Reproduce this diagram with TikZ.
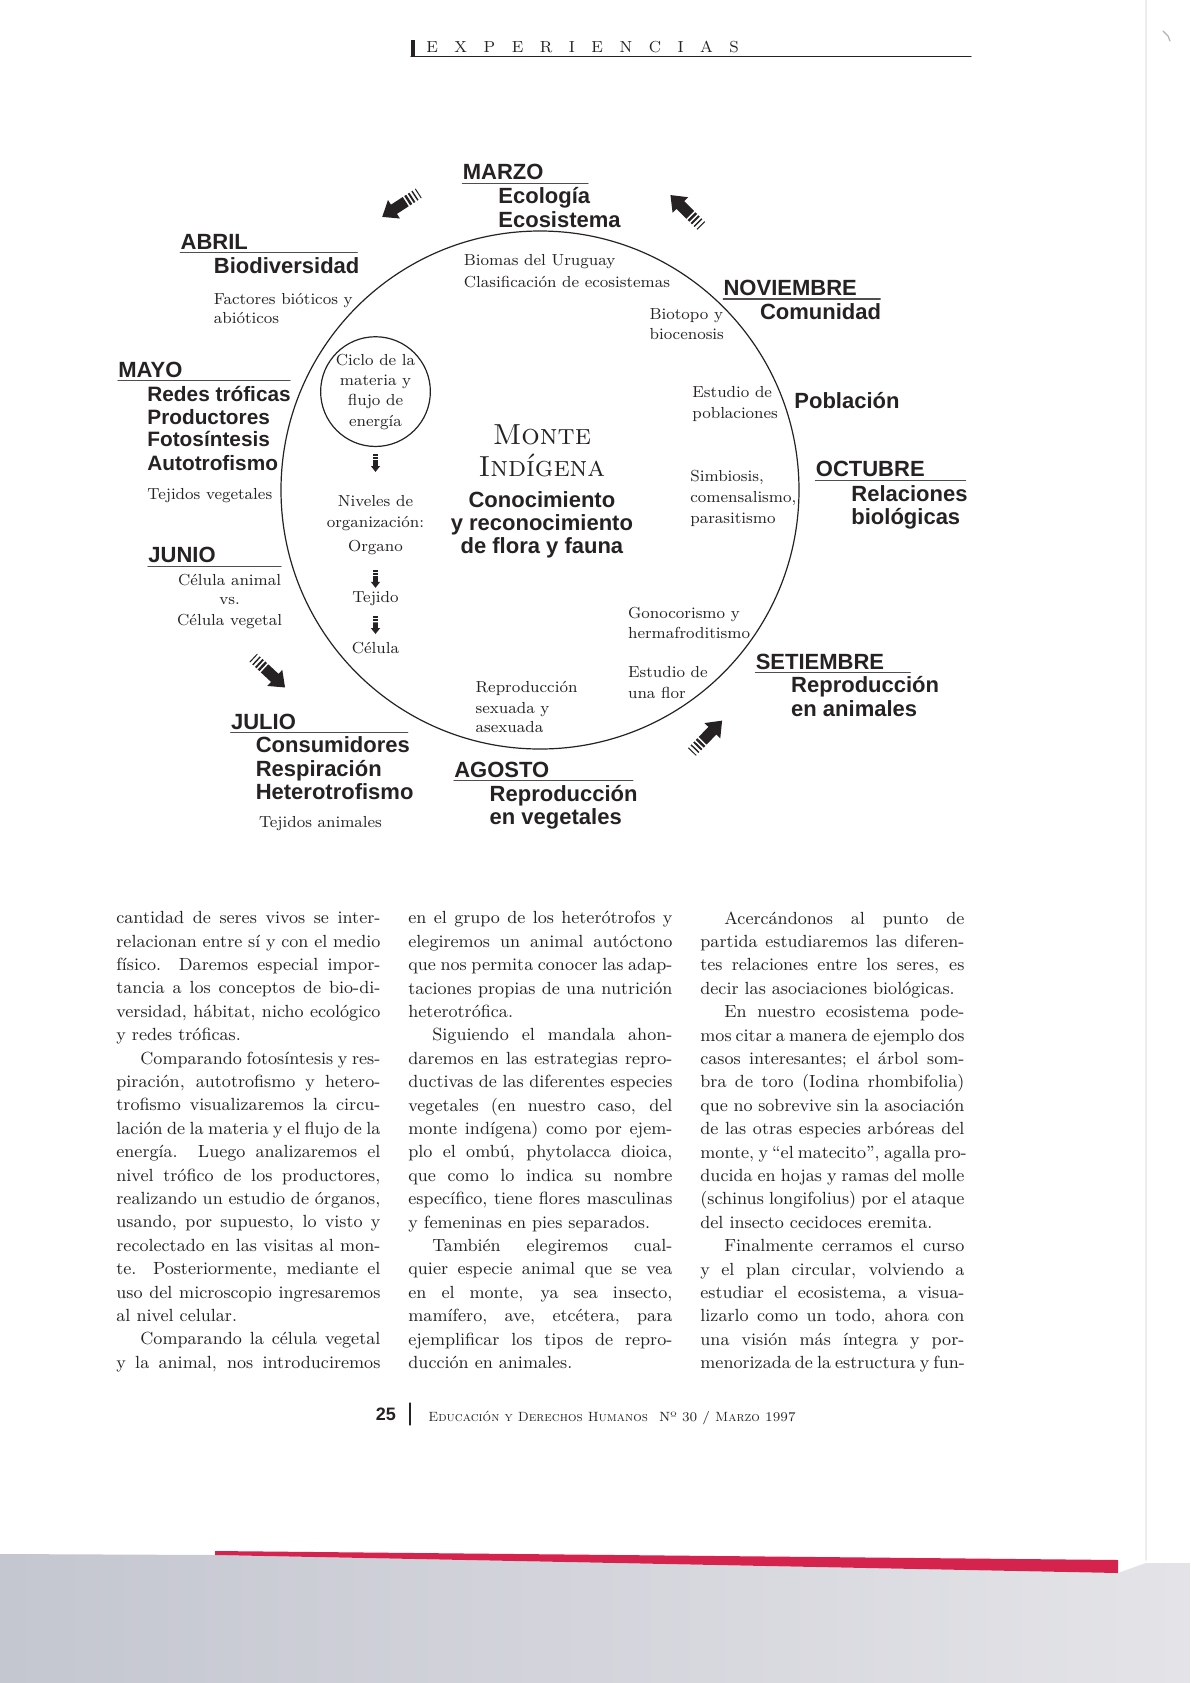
\documentclass[tikz,border=0pt]{standalone}
\usepackage{fontspec}
\newfontfamily\lbfont{Liberation Sans}
\definecolor{inkc}{RGB}{38,34,36}
\definecolor{edgered}{RGB}{212,36,78}
\newlength\colw
\setlength\colw{132pt}
\newcommand\jline[1]{\hbox to \colw{#1}}
\newcommand\lline[1]{\hbox to \colw{#1\hfil}}
\newcommand\ind{\hspace*{12pt}}
\newcommand\hdrgap{\hspace{8.25pt}}
\tikzset{
	every node/.style={inner sep=0pt, text=inkc},
	mes/.style={anchor=west, font=\lbfont\bfseries\fontsize{11}{11}\selectfont, text height=8pt, text depth=0pt},
	mesc/.style={mes, anchor=center},
	nota/.style={anchor=west, font=\fontsize{8}{10}\selectfont, text height=5pt, text depth=0pt},
	notac/.style={nota, anchor=center},
	raya/.style={draw=inkc!80, line width=0.6pt},
	bodycol/.style={anchor=north west, align=left, font=\fontsize{8.8}{11.7}\selectfont},
	mesarrow/.pic={
		\fill[inkc] (-8,-5.5) -- (6,-5.5) -- (6,-11) -- (20,0) -- (6,11) -- (6,5.5) -- (-8,5.5) -- cycle;
		\foreach \sx/\sw in {-11/2.4, -15/1.9, -19/1.4, -23/1}
		\fill[inkc] (\sx-\sw/2,-5.5) rectangle (\sx+\sw/2,5.5);
	},
}
\begin{document}
\begin{tikzpicture}[x=0.5pt, y=-0.5pt, line join=round, line cap=round]
	\useasboundingbox (0,0) rectangle (1190,1683);
	\fill[white] (0,0) rectangle (1190,1683);
	\shade[left color={rgb,255:red,196;green,198;blue,208}, right color={rgb,255:red,228;green,228;blue,232}] (0,1554) -- (215,1555) -- (1118,1573) -- (1146,1563) -- (1190,1563) -- (1190,1683) -- (0,1683) -- cycle;
	\fill[edgered] (215,1551) -- (1118,1560) -- (1118,1573) -- (215,1555) -- cycle;
	\draw[gray!15, line width=0.8pt] (1146,0) -- (1146,1560);
	\draw[gray!60, line width=0.6pt] (1163,31) -- (1168,36) -- (1170,41);
	% cabecera
	\fill[inkc] (411,40) rectangle (414.5,57);
	\draw[inkc, line width=0.6pt] (411,56.5) -- (971,56.5);
	\node (titulo) [anchor=base west, font=\fontsize{8}{8}\selectfont] at (426,52) {E\hdrgap X\hdrgap P\hdrgap E\hdrgap R\hdrgap I\hdrgap E\hdrgap N\hdrgap C\hdrgap I\hdrgap A\hdrgap S};
	% mandala
	\draw[inkc, line width=0.6pt] (540,490) circle [radius=259];
	\node (ciclo) [draw=inkc, line width=0.6pt, circle, minimum size=53.7pt, align=center, font=\fontsize{8}{10.2}\selectfont] at (375.5,391.6) {Ciclo de la\\materia y\\flujo de\\energía};
	\foreach \nm/\tx/\xx/\yy/\ul in {marzo/MARZO/462.5/171.7/125.5, abril/ABRIL/180.3/241.4/177, noviembre/NOVIEMBRE/723.2/287.6/157, mayo/MAYO/118/369.1/172, octubre/OCTUBRE/815.5/468.9/150, junio/JUNIO/148/554.7/133, julio/JULIO/230.7/721/177, agosto/AGOSTO/453.9/769.3/179, setiembre/SETIEMBRE/755.4/661/155}
	{
		\node (\nm) [mes] at (\xx,\yy) {\tx};
		\draw[raya] ([yshift=-1.5pt]\nm.south west) -- ++(\ul,0);
	}
	\foreach \nm/\tx/\xx/\yy in {marzoA/Ecología/498/195.3, marzoB/Ecosistema/498/219, abrilA/Biodiversidad/213.5/265, noviembreA/Comunidad/759.7/311.2, poblacion/Población/794/400.2, octubreA/Relaciones/851/493.6, octubreB/biológicas/851/516.1, julioA/Consumidores/255.4/744.7, julioB/Respiración/255.4/768.3, julioC/Heterotrofismo/255.4/791.9, agostoA/Reproducción/489.3/793, agostoB/en vegetales/489.3/816.6, setiembreA/Reproducción/790.8/684.6, setiembreB/en animales/790.8/708.2}
	\node (\nm) [mes] at (\xx,\yy) {\tx};
	\foreach \nm/\tx/\yy in {mayoA/Redes tróficas/393.8, mayoB/Productores/416.3, mayoC/Fotosíntesis/438.9, mayoD/Autotrofismo/462.5}
	\node (\nm) [mes, font=\lbfont\bfseries\fontsize{10.4}{10.4}\selectfont] at (147,\yy) {\tx};
	\foreach \nm/\tx/\xx/\yy in {abrilB/Factores bióticos y/213.5/299.4, abrilC/abióticos/213.5/318.7, mayoE/Tejidos vegetales/147/494.7, julioD/Tejidos animales/258.6/822, biomasA/Biomas del Uruguay/463.5/260.7, biomasB/Clasificación de ecosistemas/463.5/282.2, biotA/Biotopo y/649.2/314.4, biotB/biocenosis/649.2/334.8, poblA/Estudio de/692/392.7, poblB/poblaciones/692/413.1, simbA/{Simbiosis,}/690/476.4, simbB/{comensalismo,}/690/497.9, simbC/parasitismo/690/518.3, gonoA/Gonocorismo y/627.7/613.8, gonoB/hermafroditismo/627.7/633.1, florA/Estudio de/627.7/672.8, florB/una flor/627.7/693.2, reprA/Reproducción/475.3/687.8, reprB/sexuada y/475.3/708.2, reprC/asexuada/475.3/727.5}
	\node (\nm) [nota] at (\xx,\yy) {\tx};
	\foreach \nm/\tx/\xx/\yy in {junioA/Célula animal/229.6/580.5, junioB/vs./229.6/599.8, junioC/Célula vegetal/229.6/620.2, nivA/Niveles de/375.5/501.1, nivB/organización:/375.5/522.6, nivC/Organo/375.5/546.2, nivD/Tejido/375.5/597.7, nivE/Célula/375.5/648.1}
	\node (\nm) [notac] at (\xx,\yy) {\tx};
	\node (monteA) [font=\fontsize{14.5}{14.5}\selectfont\scshape, text height=9pt, text depth=0pt] at (541.9,435.6) {Monte};
	\node (monteB) [font=\fontsize{14.5}{14.5}\selectfont\scshape, text height=9pt, text depth=0pt] at (541.9,467.8) {Indígena};
	\node (conoA) [mesc] at (541.9,499) {Conocimiento};
	\node (conoB) [mesc] at (541.9,522.6) {y reconocimiento};
	\node (conoC) [mesc] at (541.9,545.1) {de flora y fauna};
	\pic[rotate=213] (arA) at (399,206) {mesarrow};
	\pic[rotate=135] (arB) at (684.6,209.2) {mesarrow};
	\pic[rotate=-43] (arC) at (270.4,673.8) {mesarrow};
	\pic[rotate=46] (arD) at (708.2,735) {mesarrow};
	\foreach \yy in {463.5, 579.4, 625.6}
	\pic[rotate=-90, scale=0.42] at (375.5,\yy) {mesarrow};
	% columnas
	\node (colA) [bodycol] at (116,911) {\jline{cantidad de seres vivos se inter-}\\
		\jline{relacionan entre sí y con el medio}\\
		\jline{físico. Daremos especial impor-}\\
		\jline{tancia a los conceptos de bio-di-}\\
		\jline{versidad, hábitat, nicho ecológico}\\
		\lline{y redes tróficas.}\\
		\jline{\ind Comparando fotosíntesis y res-}\\
		\jline{piración, autotrofismo y hetero-}\\
		\jline{trofismo visualizaremos la circu-}\\
		\jline{lación de la materia y el flujo de la}\\
		\jline{energía. Luego analizaremos el}\\
		\jline{nivel trófico de los productores,}\\
		\jline{realizando un estudio de órganos,}\\
		\jline{usando, por supuesto, lo visto y}\\
		\jline{recolectado en las visitas al mon-}\\
		\jline{te. Posteriormente, mediante el}\\
		\jline{uso del microscopio ingresaremos}\\
		\lline{al nivel celular.}\\
		\jline{\ind Comparando la célula vegetal}\\
		\jline{y la animal, nos introduciremos}};
	\node (colB) [bodycol] at (408,911) {\jline{en el grupo de los heterótrofos y}\\
		\jline{elegiremos un animal autóctono}\\
		\jline{que nos permita conocer las adap-}\\
		\jline{taciones propias de una nutrición}\\
		\lline{heterotrófica.}\\
		\jline{\ind Siguiendo el mandala ahon-}\\
		\jline{daremos en las estrategias repro-}\\
		\jline{ductivas de las diferentes especies}\\
		\jline{vegetales (en nuestro caso, del}\\
		\jline{monte indígena) como por ejem-}\\
		\jline{plo el ombú, phytolacca dioica,}\\
		\jline{que como lo indica su nombre}\\
		\jline{específico, tiene flores masculinas}\\
		\lline{y femeninas en pies separados.}\\
		\jline{\ind También elegiremos cual-}\\
		\jline{quier especie animal que se vea}\\
		\jline{en el monte, ya sea insecto,}\\
		\jline{mamífero, ave, etcétera, para}\\
		\jline{ejemplificar los tipos de repro-}\\
		\lline{ducción en animales.}};
	\node (colC) [bodycol] at (700,911) {\jline{\ind Acercándonos al punto de}\\
		\jline{partida estudiaremos las diferen-}\\
		\jline{tes relaciones entre los seres, es}\\
		\lline{decir las asociaciones biológicas.}\\
		\jline{\ind En nuestro ecosistema pode-}\\
		\jline{mos citar a manera de ejemplo dos}\\
		\jline{casos interesantes; el árbol som-}\\
		\jline{bra de toro (Iodina rhombifolia)}\\
		\jline{que no sobrevive sin la asociación}\\
		\jline{de las otras especies arbóreas del}\\
		\jline{monte, y “el matecito”, agalla pro-}\\
		\jline{ducida en hojas y ramas del molle}\\
		\jline{(schinus longifolius) por el ataque}\\
		\lline{del insecto cecidoces eremita.}\\
		\jline{\ind Finalmente cerramos el curso}\\
		\jline{y el plan circular, volviendo a}\\
		\jline{estudiar el ecosistema, a visua-}\\
		\jline{lizarlo como un todo, ahora con}\\
		\jline{una visión más íntegra y por-}\\
		\jline{menorizada de la estructura y fun-}};
	% pie
	\node (pagnum) [anchor=west, font=\lbfont\bfseries\fontsize{9}{9}\selectfont, text height=6.5pt, text depth=0pt] at (375.5,1414) {25};
	\draw[inkc, line width=0.6pt] (410,1403) -- (410,1425);
	\node (revista) [anchor=west, font=\fontsize{6.7}{8}\selectfont, text height=5pt, text depth=0pt] at (428,1416.4) {\textsc{Educación y Derechos Humanos}\hspace{3pt} Nº 30 / \textsc{Marzo} 1997};
\end{tikzpicture}
\end{document}
